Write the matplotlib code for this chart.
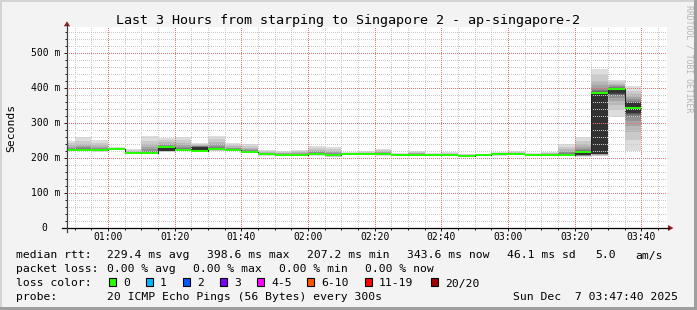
import numpy as np
import matplotlib.pyplot as plt
from matplotlib.patches import Rectangle, Polygon
from matplotlib.lines import Line2D
from matplotlib.ticker import MultipleLocator
import matplotlib.transforms as mtransforms

plt.rcParams['font.family'] = ['DejaVu Sans Mono']

# --- data (5 minute smokeping slots, values in ms) ---
slot_start = ["00:45", "00:50", "00:55", "01:00", "01:05", "01:10", "01:15",
              "01:20", "01:25", "01:30", "01:35", "01:40", "01:45", "01:50",
              "01:55", "02:00", "02:05", "02:10", "02:15", "02:20", "02:25",
              "02:30", "02:35", "02:40", "02:45", "02:50", "02:55", "03:00",
              "03:05", "03:10", "03:15", "03:20", "03:25", "03:30", "03:35"]
median = [223, 223, 222, 227, 215, 215, 232, 224, 221, 227, 223, 218,
          210.5, 210, 210, 211, 208.5, 211, 211, 210.5, 210, 210, 210, 209.5,
          207.2, 207.5, 211, 211, 210, 210, 210, 218, 386.5, 398.6, 343.6]
smoke_hi = [249, 259, 251, 231, 225, 263, 258, 261, 242, 264, 244, 239,
            223, 220, 223, 235, 232, 216, 220, 227, 214, 221, 214, 216,
            212, 212, 216, 220, 214, 218, 240, 260, 455, 424, 405]
smoke_lo = [219, 219, 218, 222, 211, 211, 218, 219, 216, 220, 219, 214,
            207, 207, 207, 207, 204, 208, 208, 207, 207, 207, 207, 206,
            205, 205, 207, 208, 207, 207, 207, 204, 205, 318, 221]
core_lo = [223, 223, 222, 224, 213, 215, 221, 224, 217, 224, 223, 216,
           210.5, 210, 210, 211, 205.5, 211, 211, 210.5, 210, 210, 210, 209.5,
           207.2, 207.5, 211, 211, 210, 210, 210, 208, 212, 385, 330]
core_hi = [223, 223, 222, 227, 215, 215, 232, 224, 232, 227, 223, 218,
           210.5, 210, 210, 211, 208.5, 211, 211, 210.5, 210, 210, 210, 209.5,
           207.2, 207.5, 211, 211, 210, 210, 210, 218, 387, 400, 358]

xtick_labels = ["01:00", "01:20", "01:40", "02:00", "02:20",
                "02:40", "03:00", "03:20", "03:40"]
ytick_vals = [0, 100, 200, 300, 400, 500]
ytick_labels = ["0", "100 m", "200 m", "300 m", "400 m", "500 m"]

loss_labels = ["0", "1", "2", "3", "4-5", "6-10", "11-19", "20/20"]
loss_colors = ["#26ff00", "#00b8ff", "#0059ff", "#7e00ff",
               "#ff00ff", "#ff5500", "#ff0000", "#a10000"]

title = "Last 3 Hours from starping to Singapore 2 - ap-singapore-2"


def to_min(s):
    h, m = s.split(":")
    return int(h) * 60 + int(m)


W, H = 697, 310


def fx(px):
    return px / W


def fy(py):
    return 1 - py / H


x0 = np.array([to_min(s) for s in slot_start], dtype=float)
step = 5.0
med = np.array(median)
lo = np.array(smoke_lo)
hi = np.array(smoke_hi)
clo = np.array(core_lo)
chi = np.array(core_hi)
xtick_pos = [to_min(s) for s in xtick_labels]

fig = plt.figure(figsize=(W / 100, H / 100), dpi=100, facecolor="#f3f3f3")

# 3d-ish frame
fig.patches.append(Rectangle((0, fy(2)), 1, fy(0) - fy(2), transform=fig.transFigure,
                             color="#d4d4d4", lw=0))
fig.patches.append(Rectangle((0, 0), fx(2), 1, transform=fig.transFigure,
                             color="#d4d4d4", lw=0))
fig.patches.append(Rectangle((0, 0), 1, fy(307), transform=fig.transFigure,
                             color="#9e9e9e", lw=0))
fig.patches.append(Rectangle((fx(694), 0), 1 - fx(694), 1, transform=fig.transFigure,
                             color="#9e9e9e", lw=0))

# plot area on whole pixels so the 1px dotted grid stays crisp
AX_L, AX_R, AX_T, AX_B = 67, 667, 27, 228
ax = fig.add_axes([fx(AX_L), fy(AX_B), fx(AX_R) - fx(AX_L), fy(AX_T) - fy(AX_B)])
ax.set_facecolor("white")
xmin, xmax = to_min("00:47") + 40 / 60, to_min("03:47") + 40 / 60
ax.set_xlim(xmin, xmax)
ax.set_ylim(0, 575)

# smoke: nested bands, outer light -> inner dark
for i in range(10):
    g = (190 // 10) * (9 - i) + 50
    w = ((10 - i) / 10) ** 3
    b_lo = clo - (clo - lo) * w
    b_hi = chi + (hi - chi) * w
    ax.bar(x0, b_hi - b_lo, bottom=b_lo, width=step, align="edge",
           color="#%02x%02x%02x" % (g, g, g), lw=0, zorder=1)

# dotted grid: grey every 5 min / 20 ms, pink every 20 min / 100 ms
dot = (0.5, (1, 1))
minor_x = [v for v in range(50, 228, 5) if v not in xtick_pos]
minor_y = [v for v in range(20, 575, 20) if v % 100 != 0]
for xv in minor_x:
    ax.axvline(xv, color="#c8c8c8", lw=0.72, linestyle=dot, snap=True, zorder=2)
for yv in minor_y:
    ax.axhline(yv, color="#c8c8c8", lw=0.72, linestyle=dot, snap=True, zorder=2)
for xv in xtick_pos:
    ax.axvline(xv, color="#ee7070", lw=0.72, linestyle=dot, snap=True, zorder=2.1)
for yv in ytick_vals[1:]:
    ax.axhline(yv, color="#ee7070", lw=0.72, linestyle=dot, snap=True, zorder=2.1)

# median
ax.stairs(med, np.append(x0, x0[-1] + step), baseline=None,
          color="#202020", lw=0.7, zorder=3)
ax.hlines(med, x0, x0 + step, color="#26ff00", lw=1.45, zorder=4)

ax.xaxis.set_minor_locator(MultipleLocator(5))
ax.yaxis.set_minor_locator(MultipleLocator(20))
ax.set_xticks(xtick_pos, xtick_labels)
ax.set_yticks(ytick_vals, [])
ax.tick_params(which="major", direction="out", length=2.2, width=0.72,
               labelsize=7, pad=0.8, color="#202020")
ax.tick_params(which="minor", direction="out", length=1.4, width=0.72, color="#202020")
for s in ax.spines.values():
    s.set_visible(False)

ytrans = mtransforms.blended_transform_factory(fig.transFigure, ax.transData)
for v, lab in zip(ytick_vals, ytick_labels):
    xr = 47 if lab == "0" else 60.5
    ax.text(fx(xr), v, lab, transform=ytrans, ha="right", va="center",
            fontsize=7, clip_on=False)

# axis lines and arrows
fig.lines.append(Line2D([fx(62), fx(669)], [fy(AX_B), fy(AX_B)],
                        transform=fig.transFigure, color="black", lw=0.9))
fig.lines.append(Line2D([fx(AX_L), fx(AX_L)], [fy(232), fy(23)],
                        transform=fig.transFigure, color="#404040", lw=0.9))
red = "#9b1c1c"
fig.patches.append(Polygon([(fx(63.8), fy(26.3)), (fx(70.2), fy(26.3)), (fx(67), fy(21.3))],
                           closed=True, transform=fig.transFigure, color=red, lw=0))
fig.patches.append(Polygon([(fx(668), fy(225)), (fx(668), fy(231)), (fx(673.5), fy(228))],
                           closed=True, transform=fig.transFigure, color=red, lw=0))

# titles
fig.text(fx(347.5), fy(24), title, ha="center", va="baseline", fontsize=9.6)
fig.text(fx(11), fy(127.5), "Seconds", rotation=90, ha="center", va="center", fontsize=8.2)
fig.text(fx(688.5), fy(5), "RRDTOOL / TOBI OETIKER", rotation=270, ha="center",
         va="top", fontsize=5.9, color="#b4b4b4")

# legend block
fs = 8.2
rows = [
    (258.5, [(16, "median rtt:"), (107.3, "229.4 ms avg"), (207.3, "398.6 ms max"),
             (306.7, "207.2 ms min"), (407.3, "343.6 ms now"), (507.3, "46.1 ms sd"),
             (595, "5.0"), (635.7, "am/s")]),
    (272.5, [(16, "packet loss:"), (107.3, "0.00 % avg"), (193.3, "0.00 % max"),
             (279, "0.00 % min"), (365, "0.00 % now")]),
    (286.5, [(16, "loss color:")]),
    (300.5, [(16, "probe:"), (107.3, "20 ICMP Echo Pings (56 Bytes) every 300s"),
             (513.3, "Sun Dec  7 03:47:40 2025")]),
]
for yb, items in rows:
    for xp, s in items:
        fig.text(fx(xp), fy(yb), s, ha="left", va="baseline", fontsize=fs)

box_x = [109, 146, 183, 220, 257, 307, 365, 431]
for bx, lab, col in zip(box_x, loss_labels, loss_colors):
    fig.patches.append(Rectangle((fx(bx), fy(285.5)), fx(7), 8 / H, transform=fig.transFigure,
                                 facecolor=col, edgecolor="black", lw=0.8))
    fig.text(fx(bx + 14), fy(286.5), lab, ha="left", va="baseline", fontsize=fs)

fig.savefig("out.png", dpi=100, facecolor=fig.get_facecolor())
